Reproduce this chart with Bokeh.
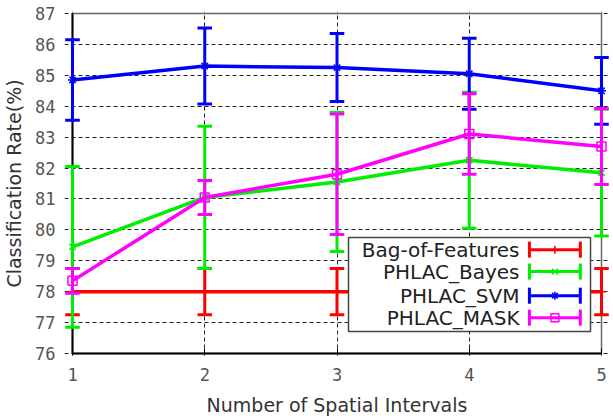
from bokeh.plotting import figure
from bokeh.models import FixedTicker, Range1d
from bokeh.core.properties import value
from bokeh.embed import file_html
from bokeh.resources import INLINE

# Classification rate (%) vs. number of spatial intervals, mean and error half-width
intervals = [1, 2, 3, 4, 5]

bof_rate = [78.0, 78.0, 78.0, 78.0, 78.0]
bof_err = [0.75, 0.75, 0.75, 0.75, 0.75]

bayes_rate = [79.45, 81.05, 81.55, 82.25, 81.85]
bayes_err = [2.6, 2.3, 2.25, 2.2, 2.05]

svm_rate = [84.85, 85.3, 85.25, 85.05, 84.5]
svm_err = [1.3, 1.23, 1.1, 1.15, 1.08]

mask_rate = [78.35, 81.05, 81.8, 83.1, 82.7]
mask_err = [0.4, 0.55, 1.95, 1.3, 1.23]

series_names = ["Bag-of-Features", "PHLAC_Bayes", "PHLAC_SVM", "PHLAC_MASK"]
series_rates = [bof_rate, bayes_rate, svm_rate, mask_rate]
series_errs = [bof_err, bayes_err, svm_err, mask_err]
series_colors = ["#ff0000", "#00ee00", "#0000ff", "#ff00ff"]
series_markers = ["cross", "x", "asterisk", "square"]

y_ticks = list(range(76, 88))
x_lo, x_hi = 1, 5
y_lo, y_hi = 76, 87

# a little slack round the box so error-bar caps on its edges are not cut off
x_pad = 0.0605
y_pad = 0.065

p = figure(width=613, height=419, output_backend="svg", toolbar_location=None,
           x_range=Range1d(x_lo - x_pad, x_hi + x_pad),
           y_range=Range1d(y_lo - y_pad, y_hi + y_pad),
           min_border_left=64, min_border_right=4, min_border_top=11,
           min_border_bottom=64)
p.background_fill_color = "white"
p.border_fill_color = "white"
p.outline_line_color = None

p.xaxis.ticker = FixedTicker(ticks=intervals)
p.yaxis.ticker = FixedTicker(ticks=y_ticks)
for ax in (p.xaxis[0], p.yaxis[0]):
    ax.axis_line_color = None
    ax.minor_tick_line_color = None
    ax.major_label_text_font = "DejaVu Sans Mono"
    ax.major_label_text_font_size = "17px"
    ax.major_label_text_color = "#555555"
    ax.axis_label_text_font = "DejaVu Sans"
    ax.axis_label_text_font_size = "19px"
    ax.axis_label_text_font_style = "normal"
    ax.axis_label_text_color = "#333333"

p.xaxis.major_tick_in = 7
p.xaxis.major_tick_out = 0
p.xaxis.major_tick_line_color = "black"
p.xaxis.major_tick_line_width = 1
p.yaxis.major_tick_line_color = None

p.xaxis.axis_label = "Number of Spatial Intervals"
p.yaxis.axis_label = "Classification Rate(%)"
p.xaxis.major_label_standoff = 12
p.xaxis.axis_label_standoff = 10
p.yaxis.major_label_standoff = 3
p.yaxis.axis_label_standoff = 7

for g in (p.xgrid[0], p.ygrid[0]):
    g.grid_line_color = "#222222"
    g.grid_line_dash = "4 3"
    g.grid_line_width = 1
p.ygrid[0].bounds = (x_lo, x_hi)
p.xgrid[0].bounds = (y_lo, y_hi)

# plot box: grey on top and right, black axis lines on left and bottom
p.quad(left=[x_lo], right=[x_hi], bottom=[y_lo], top=[y_hi], fill_color=None,
       line_color="#666666", line_width=1.5)
p.segment([x_lo, x_lo], [y_lo, y_lo], [x_lo, x_hi], [y_hi, y_lo],
          line_color="black", line_width=2)

# error bars, lines and markers, drawn series by series
cap = 0.055
for name, rate, err, color, marker in zip(series_names, series_rates, series_errs,
                                          series_colors, series_markers):
    lo = [r - e for r, e in zip(rate, err)]
    hi = [r + e for r, e in zip(rate, err)]
    xl = [x - cap for x in intervals]
    xr = [x + cap for x in intervals]
    p.segment(intervals, lo, intervals, hi, line_color=color, line_width=3)
    p.segment(xl, lo, xr, lo, line_color=color, line_width=3)
    p.segment(xl, hi, xr, hi, line_color=color, line_width=3)
    p.line(intervals, rate, line_color=color, line_width=3.5)
    p.scatter(intervals, rate, marker=marker, size=9, line_color=color,
              fill_color=None, line_width=1.5)

# key box, drawn in the lower right of the plot area
key_left, key_right, key_top, key_bottom = 3.087, 4.917, 79.75, 76.71
key_rows = [79.36, 78.65, 77.87, 77.16]
key_text_x = 4.38
key_line_x0, key_line_x1 = 4.455, 4.84
key_cap = 0.26

p.quad(left=[key_left], right=[key_right], top=[key_top], bottom=[key_bottom],
       fill_color="white", line_color="#444444", line_width=1.5, level="overlay")
for name, color, marker, ky in zip(series_names, series_colors, series_markers, key_rows):
    p.segment([key_line_x0], [ky], [key_line_x1], [ky], line_color=color,
              line_width=3, level="overlay")
    p.segment([key_line_x0, key_line_x1], [ky - key_cap, ky - key_cap],
              [key_line_x0, key_line_x1], [ky + key_cap, ky + key_cap],
              line_color=color, line_width=3, level="overlay")
    p.scatter([(key_line_x0 + key_line_x1) / 2], [ky], marker=marker, size=8,
              line_color=color, fill_color=None, line_width=1.5, level="overlay")
    p.text([key_text_x], [ky], text=[name], text_align="right",
           text_baseline="middle", text_font=value("DejaVu Sans"),
           text_font_size="20px", text_color="#222222", level="overlay")

open("out.html", "w").write(file_html(p, INLINE))
